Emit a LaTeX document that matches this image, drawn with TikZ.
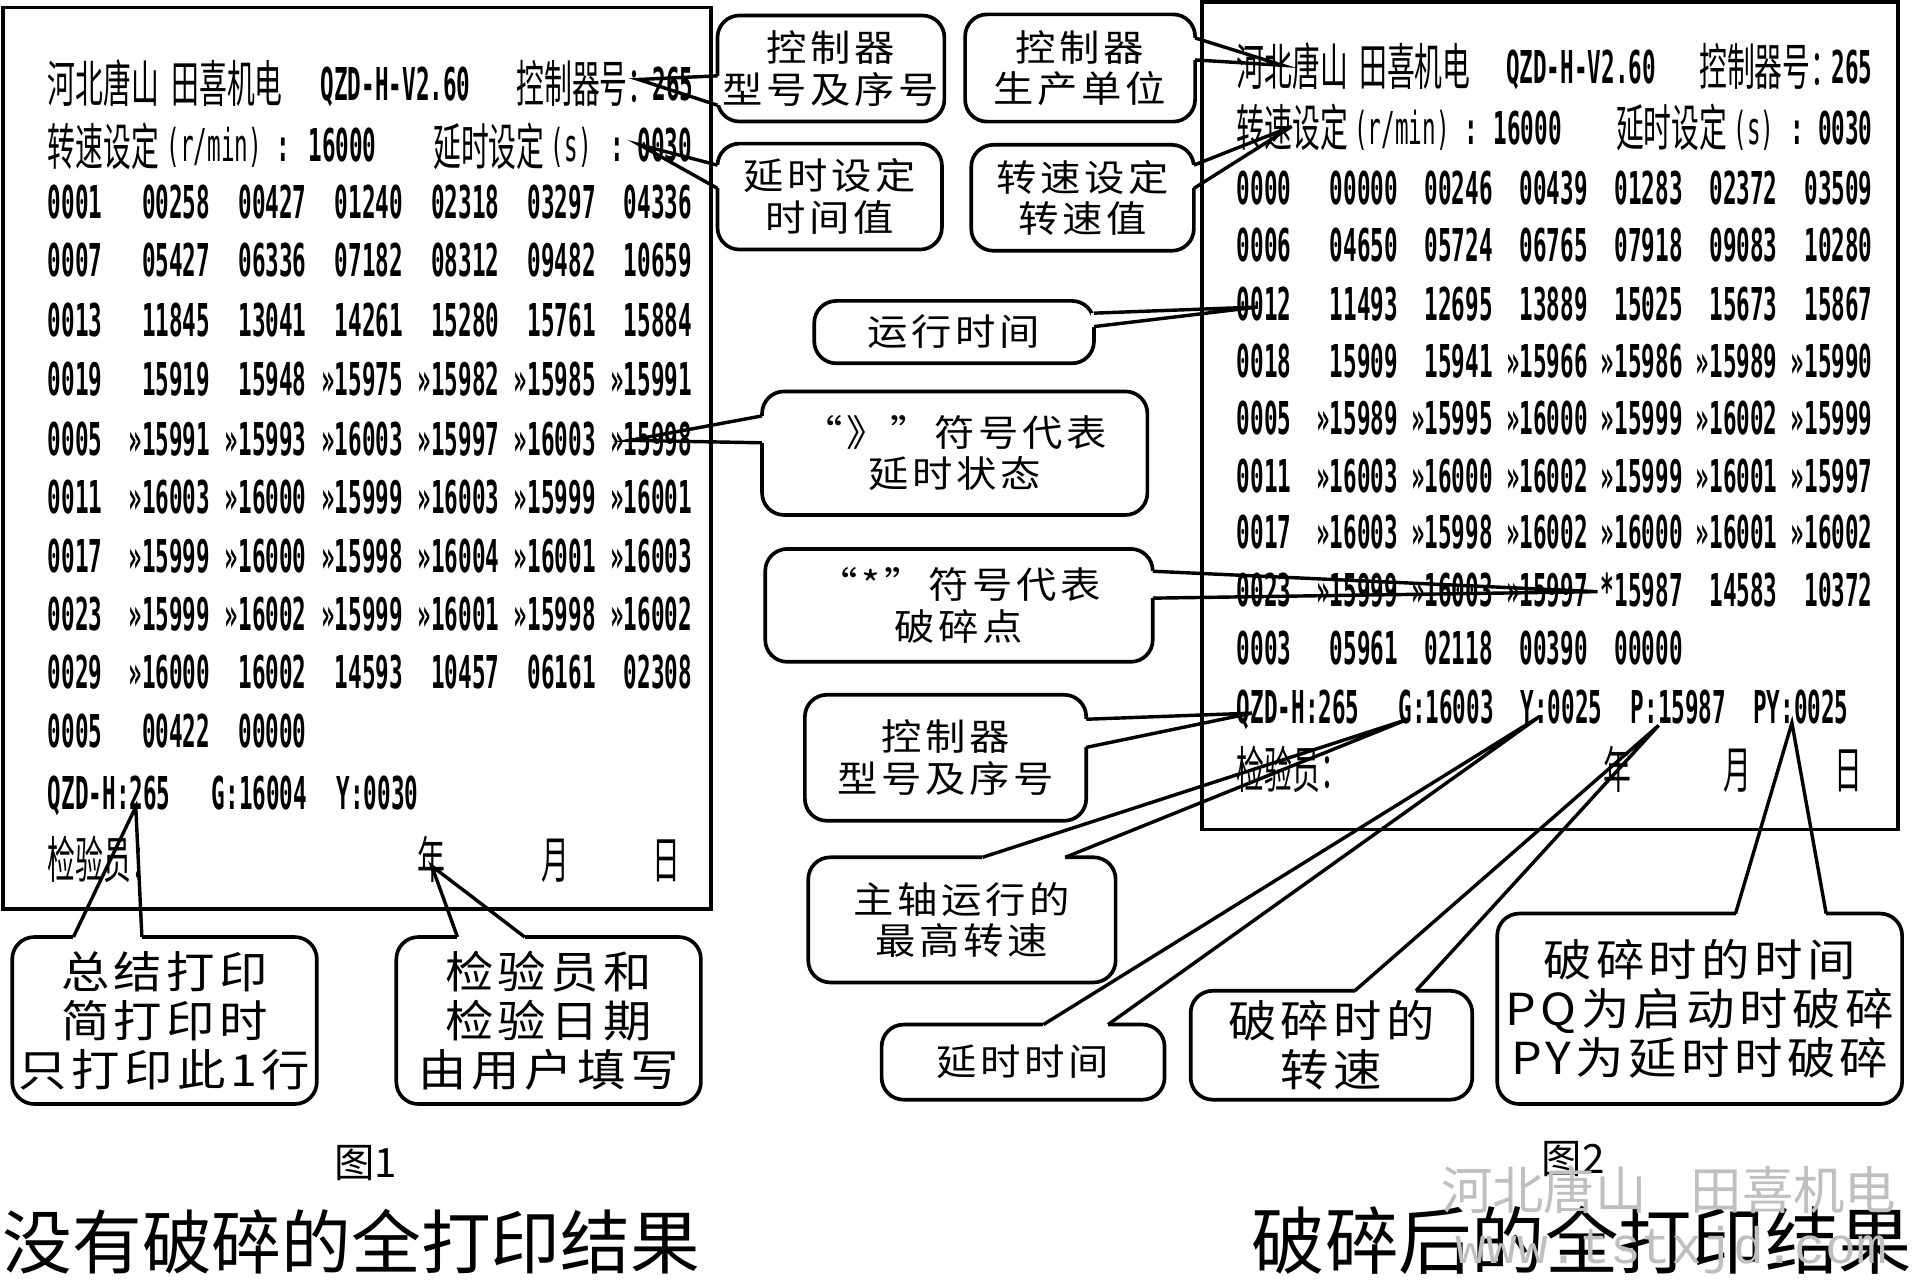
\documentclass[tikz,border=0pt]{standalone}
\usepackage{fontspec}
\usetikzlibrary{calc}
\newfontfamily\pcjk[FakeStretch=0.555]{Noto Sans CJK SC}
\newfontfamily\prn[FakeStretch=0.5]{DejaVu Sans Mono}
\newfontfamily\ccjk[FakeStretch=1.1,LetterSpace=10]{Noto Sans CJK SC}
\newfontfamily\ccjkb[FakeStretch=1.1,LetterSpace=10]{Noto Sans CJK SC}
\newfontfamily\capcjk{Noto Sans CJK SC}
\newfontfamily\wmmono{Liberation Mono}
\tikzset{
  printbox/.style={draw, line width=3pt, inner sep=0pt, outer sep=0pt},
  ptxt/.style={inner sep=0pt, anchor=base east, font={\prn\bfseries\fontsize{37pt}{37pt}\selectfont}},
  plight/.style={inner sep=0pt, anchor=base, font={\prn\fontsize{37pt}{37pt}\selectfont}},
  pcj/.style={inner sep=0pt, anchor=base west, font={\pcjk\fontsize{41pt}{41pt}\selectfont}},
  cbox/.style={draw, line width=3pt, rounded corners=18pt, fill=white, inner sep=0pt, outer sep=0pt, align=center, font={\ccjk\fontsize{30pt}{34pt}\selectfont}},
  cboxb/.style={cbox, font={\ccjkb\fontsize{36pt}{40pt}\selectfont}},
  ptr/.style={line width=2.8pt},
  captxt/.style={inner sep=0pt, font={\capcjk\fontsize{#1}{#1}\selectfont}},
}
\newcommand\ptrL[4]{\fill[white] (#1.west |- 0,#2) ++(-2.5,0) rectangle ++(5,#3-#2);
  \draw[ptr] (#1.west |- 0,#2) -- (#4) -- (#1.west |- 0,#3);}
\newcommand\ptrR[4]{\fill[white] (#1.east |- 0,#2) ++(-2.5,0) rectangle ++(5,#3-#2);
  \draw[ptr] (#1.east |- 0,#2) -- (#4) -- (#1.east |- 0,#3);}
\newcommand\ptrT[4]{\fill[white] (#1.north -| #2,0) ++(0,-2.5) rectangle ++(#3-#2,5);
  \draw[ptr] (#1.north -| #2,0) -- (#4) -- (#1.north -| #3,0);}
\begin{document}
\begin{tikzpicture}[x=1pt,y=-1pt]
\fill[white] (0,0) rectangle (1568,1046);
\useasboundingbox (0,0) rectangle (1568,1046);

% ---------- Figure 1 printout ----------
\node[printbox, minimum width=578.5pt, minimum height=737pt] (box1) at (291.75,374.5) {};
\node[pcj] (L-h1) at (39,84) {河北唐山};
\node[pcj] (L-h2) at (140,84) {田喜机电};
\node[ptxt, anchor=base west] (L-h3) at (262,82) {QZD-H-V2.60};
\node[pcj] (L-h4) at (422,84) {控制器号：};
\node[ptxt] (L-h5) at (567,82) {265};
\node[pcj] (L-s1) at (39,135) {转速设定};
\node[plight, anchor=base west] (L-s2) at (136,132) {(r/min)};
\node[ptxt, anchor=base] (L-s3) at (232,132) {:};
\node[ptxt] (L-s4) at (308,132) {16000};
\node[pcj] (L-s5) at (354,135) {延时设定};
\node[plight] (L-s6) at (467,132) {(s)};
\node[ptxt, anchor=base] (L-s7) at (505,132) {:};
\node[ptxt] (L-s8) at (566,132) {0030};
\foreach \yy/\vals [count=\r] in {
  165/{0001,00258,00427,01240,02318,03297,04336},
  212.5/{0007,05427,06336,07182,08312,09482,10659},
  262/{0013,11845,13041,14261,15280,15761,15884},
  310/{0019,15919,15948,»15975,»15982,»15985,»15991},
  359/{0005,»15991,»15993,»16003,»15997,»16003,»15998},
  406/{0011,»16003,»16000,»15999,»16003,»15999,»16001},
  454.5/{0017,»15999,»16000,»15998,»16004,»16001,»16003},
  502/{0023,»15999,»16002,»15999,»16001,»15998,»16002},
  549.5/{0029,»16000,16002,14593,10457,06161,02308},
  597.5/{0005,00422,00000}}{
  \foreach \v [count=\c] in \vals {
    \ifnum\c=1
      \node[ptxt, anchor=base west] (L\r-\c) at (39,\yy+13.5) {\v};
    \else
      \node[ptxt] (L\r-\c) at ({172+(\c-2)*78.8},\yy+13.5) {\v};
    \fi
  }
}
\node[ptxt, anchor=base west] (L-q1) at (39,661.5) {QZD-H:265};
\node[ptxt, anchor=base west] (L-q2) at (173,661.5) {G:16004};
\node[ptxt, anchor=base west] (L-q3) at (275,661.5) {Y:0030};
\node[pcj] (L-j1) at (39,718) {检验员：};
\node[pcj, anchor=base] (L-j2) at (353,718) {年};
\node[pcj, anchor=base] (L-j3) at (454,718) {月};
\node[pcj, anchor=base] (L-j4) at (545,718) {日};

% ---------- Figure 2 printout ----------
\node[printbox, minimum width=569pt, minimum height=676.4pt] (box2) at (1267,339.8) {};
\node[pcj] (R-h1) at (1011,70) {河北唐山};
\node[pcj] (R-h2) at (1111,70) {田喜机电};
\node[ptxt, anchor=base west] (R-h3) at (1231,68.5) {QZD-H-V2.60};
\node[pcj] (R-h4) at (1389,70) {控制器号：};
\node[ptxt] (R-h5) at (1531,68.5) {265};
\node[pcj] (R-s1) at (1011,120) {转速设定};
\node[plight, anchor=base west] (R-s2) at (1107,118.5) {(r/min)};
\node[ptxt, anchor=base] (R-s3) at (1203,118.5) {:};
\node[ptxt] (R-s4) at (1277,118.5) {16000};
\node[pcj] (R-s5) at (1321,120) {延时设定};
\node[plight] (R-s6) at (1434,118.5) {(s)};
\node[ptxt, anchor=base] (R-s7) at (1469,118.5) {:};
\node[ptxt] (R-s8) at (1531,118.5) {0030};
\foreach \yy/\vals [count=\r] in {
  153.5/{0000,00000,00246,00439,01283,02372,03509},
  200/{0006,04650,05724,06765,07918,09083,10280},
  248.5/{0012,11493,12695,13889,15025,15673,15867},
  295/{0018,15909,15941,»15966,»15986,»15989,»15990},
  342/{0005,»15989,»15995,»16000,»15999,»16002,»15999},
  389/{0011,»16003,»16000,»16002,»15999,»16001,»15997},
  435/{0017,»16003,»15998,»16002,»16000,»16001,»16002},
  482/{0023,»15999,»16003,»15997,*15987,14583,10372},
  530/{0003,05961,02118,00390,00000}}{
  \foreach \v [count=\c] in \vals {
    \ifnum\c=1
      \node[ptxt, anchor=base west] (R\r-\c) at (1011,\yy+13.5) {\v};
    \else
      \node[ptxt] (R\r-\c) at ({1143+(\c-2)*77.6},\yy+13.5) {\v};
    \fi
  }
}
\node[ptxt, anchor=base west] (R-q1) at (1011,591.5) {QZD-H:265};
\node[ptxt, anchor=base west] (R-q2) at (1143,591.5) {G:16003};
\node[ptxt, anchor=base west] (R-q3) at (1243,591.5) {Y:0025};
\node[ptxt, anchor=base west] (R-q4) at (1333,591.5) {P:15987};
\node[ptxt, anchor=base west] (R-q5) at (1433,591.5) {PY:0025};
\node[pcj] (R-j1) at (1011,645) {检验员：};
\node[pcj, anchor=base] (R-j2) at (1322,645) {年};
\node[pcj, anchor=base] (R-j3) at (1420,645) {月};
\node[pcj, anchor=base] (R-j4) at (1511,645) {日};

% ---------- pointer tips ----------
\coordinate (t1) at (522,65);
\coordinate (t2) at (523,118.4);
\coordinate (t3) at (1048.5,53.4);
\coordinate (t4) at (1056,103.4);
\coordinate (t5) at (1028.4,251);
\coordinate (t6) at (515,360);
\coordinate (t7) at (1306,483.7);
\coordinate (t8) at (1023.4,583);
\coordinate (t9) at (1151,588);
\coordinate (t10) at (1258.7,585.7);
\coordinate (t11) at (1356,593);
\coordinate (t12) at (1464.9,591);
\coordinate (t13) at (111,659.6);
\coordinate (t14) at (353,708);

% ---------- callouts ----------
\node[cbox, minimum width=185.5pt, minimum height=86.7pt] (c1) at (679.3,56) {控制器\\型号及序号};
\ptrL{c1}{62}{86}{t1}
\node[cbox, minimum width=183.5pt, minimum height=86.6pt] (c2) at (678.3,160.7) {延时设定\\时间值};
\ptrL{c2}{135}{154}{t2}
\node[cbox, minimum width=188pt, minimum height=87.7pt] (c3) at (883,55.6) {控制器\\生产单位};
\ptrR{c3}{31}{49}{t3}
\node[cbox, minimum width=182pt, minimum height=86.6pt] (c4) at (885,161.7) {转速设定\\转速值};
\ptrR{c4}{135}{154}{t4}
\node[cbox, minimum width=228.7pt, minimum height=51pt] (c5) at (780,271.5) {运行时间};
\ptrR{c5}{256}{267}{t5}
\node[cbox, minimum width=315pt, minimum height=101pt] (c6) at (780.5,370.5) {“》”符号代表\\延时状态};
\ptrL{c6}{340}{362}{t6}
\node[cbox, minimum width=316.8pt, minimum height=92.3pt] (c7) at (784,494.9) {“*”符号代表\\破碎点};
\ptrR{c7}{467}{489}{t7}
\node[cbox, minimum width=230pt, minimum height=103pt] (c8) at (773,619.5) {控制器\\型号及序号};
\ptrR{c8}{588}{611}{t8}
\node[cbox, minimum width=251.3pt, minimum height=102.3pt] (c9) at (786.4,752) {主轴运行的\\最高转速};
\ptrT{c9}{803.2}{870.8}{t9}
\node[cbox, minimum width=231.3pt, minimum height=61.4pt] (c10) at (836.4,868.3) {延时时间};
\ptrT{c10}{853}{905.8}{t10}
\node[cboxb, minimum width=230.2pt, minimum height=89pt] (c11) at (1088.5,854.5) {破碎时的\\转速};
\ptrT{c11}{1107.5}{1157.6}{t11}
\node[cboxb, minimum width=331pt, minimum height=155.7pt] (c12) at (1389.5,824.7) {破碎时的时间\\PQ为启动时破碎\\PY为延时时破碎};
\ptrT{c12}{1418.8}{1492.9}{t12}
\node[cboxb, minimum width=249pt, minimum height=136.5pt] (c13) at (134.5,834.3) {总结打印\\简打印时\\只打印此1行};
\ptrT{c13}{60}{116}{t13}
\node[cboxb, minimum width=249pt, minimum height=136.5pt] (c14) at (448.5,834.3) {检验员和\\检验日期\\由用户填写};
\ptrT{c14}{374}{429}{t14}

% ---------- captions ----------
\node[captxt=33pt, anchor=base] (fig1) at (299,963) {图1};
\node[captxt=57pt, anchor=base west] (cap1) at (2,1037) {没有破碎的全打印结果};
\node[captxt=33pt, anchor=base] (fig2) at (1286,959) {图2};
\node[captxt=60pt, anchor=base west] (cap2) at (1023,1037) {破碎后的全打印结果};
\node[captxt=42pt, anchor=base west, text=black!25] (wm1) at (1178,989) {河北唐山\hspace{36pt}田喜机电};
\node[inner sep=0pt, anchor=base west, text=black!25, font={\wmmono\fontsize{42pt}{42pt}\selectfont}] (wm2) at (1190,1033) {www.tstxjd.com};
\end{tikzpicture}
\end{document}
